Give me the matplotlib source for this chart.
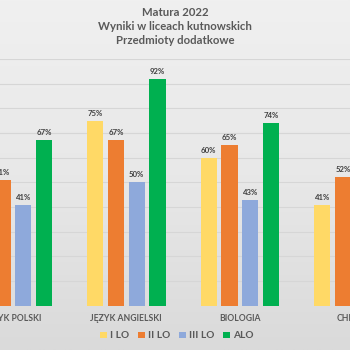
import numpy as np
import matplotlib
matplotlib.use('Agg')
import matplotlib.pyplot as plt

plt.rcParams['font.family'] = ['Lato', 'DejaVu Sans']

subjects = ['JĘZYK POLSKI', 'JĘZYK ANGIELSKI', 'BIOLOGIA', 'CHEMIA']
schools = ['I LO', 'II LO', 'III LO', 'ALO']
i_lo = [56, 75, 60, 41]
ii_lo = [51, 67, 65, 52]
iii_lo = [41, 50, 43, 38]
alo = [67, 92, 74, 60]
colors = ['#FFD966', '#ED7D31', '#8EA9DB', '#00B050']

text_color = '#595959'

fig = plt.figure(figsize=(3.5, 3.5), dpi=100)

# light grey gradient behind everything
bg = fig.add_axes([0, 0, 1, 1], zorder=-10)
grad = np.linspace(0, 1, 256).reshape(-1, 1)
bg.imshow(grad, aspect='auto', cmap=matplotlib.colors.LinearSegmentedColormap.from_list(
    'bg', ['#f0f0f0', '#e8e8e8', '#dadada']), extent=[0, 1, 0, 1])
bg.axis('off')

# the plot area runs wider than the canvas on both sides
ax = fig.add_axes([-43.95 / 350, 44.3 / 350, 454 / 350, 246.7 / 350])
ax.set_facecolor('none')

x = np.arange(len(subjects))
pitch = 0.1824
width = 0.1436
series = [i_lo, ii_lo, iii_lo, alo]
for k, (vals, name, col) in enumerate(zip(series, schools, colors)):
    pos = x + (k - 1.5) * pitch
    bars = ax.bar(pos, vals, width, color=col, label=name, zorder=3)
    for b, v in zip(bars, vals):
        ax.text(b.get_x() + b.get_width() / 2, v + 1.6, f'{v}%', ha='center', va='bottom',
                fontsize=5.6, fontweight='bold', color='#404040', zorder=4)

ax.set_xlim(-0.5, 3.5)
ax.set_ylim(0, 100)
ax.set_yticks(np.arange(10, 101, 10))
ax.set_yticklabels([])
ax.grid(axis='y', color='#d6d6d6', linewidth=0.8, zorder=0)
ax.set_xticks(x)
ax.set_xticklabels(subjects, fontsize=6.2, fontweight='bold', color=text_color)
ax.tick_params(axis='both', length=0)
ax.tick_params(axis='x', pad=6.3)
for s in ax.spines.values():
    s.set_visible(False)

fig.text(0.5, 1 - 13 / 350, 'Matura 2022', ha='center', va='center',
         fontsize=8.2, fontweight='bold', color=text_color)
fig.text(0.5, 1 - 27 / 350, 'Wyniki w liceach kutnowskich', ha='center', va='center',
         fontsize=8.2, fontweight='bold', color=text_color)
fig.text(0.5, 1 - 41 / 350, 'Przedmioty dodatkowe', ha='center', va='center',
         fontsize=8.2, fontweight='bold', color=text_color)

leg = fig.legend(loc='center', bbox_to_anchor=(177 / 350, 1 - 336 / 350), ncol=4,
                 frameon=False, fontsize=7.3, handlelength=0.65, handleheight=0.65,
                 handletextpad=0.3, columnspacing=0.9)
for t in leg.get_texts():
    t.set_color(text_color)
    t.set_fontweight('bold')

fig.savefig('out.png', dpi=100)
